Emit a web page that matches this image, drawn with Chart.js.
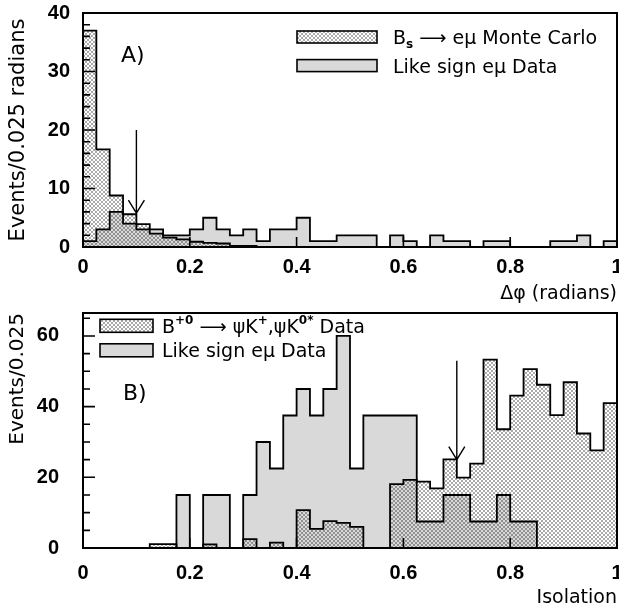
<!DOCTYPE html>
<html>
<head>
<meta charset="utf-8">
<script src="https://cdn.jsdelivr.net/npm/chart.js@4.4.0/dist/chart.umd.min.js"></script>
<style>
  html, body { margin: 0; padding: 0; background: #fff; }
  #wrap { position: relative; width: 619px; height: 606px; }
  canvas { position: absolute; left: 0; }
  #chartA { top: 0; }
  #chartB { top: 303px; }
</style>
</head>
<body>
<div id="wrap">
  <canvas id="chartA" width="619" height="303"></canvas>
  <canvas id="chartB" width="619" height="303"></canvas>
</div>
<script>
// 40 bins of 0.025 from 0 to 1 in both panels
const binWidth = 0.025;

// panel A: delta phi (radians)
const dphiMonteCarlo = [37, 16.7, 8.8, 5.6, 3.9, 2.3, 1.6, 1.3, 0.9, 0.7,
                        0.6, 0.2, 0.2, 0, 0, 0, 0, 0, 0, 0,
                        0, 0, 0, 0, 0, 0, 0, 0, 0, 0,
                        0, 0, 0, 0, 0, 0, 0, 0, 0, 0];
const dphiLikeSign = [1, 3, 6, 4, 3, 3, 2, 2, 3, 5,
                      3, 2, 3, 1, 3, 3, 5, 1, 1, 2,
                      2, 2, 0, 2, 1, 0, 2, 1, 1, 0,
                      1, 1, 0, 0, 0, 1, 1, 2, 0, 1];

// panel B: isolation
const isoPsiK = [0, 0, 0, 0, 0, 1.1, 1.1, 0, 0, 1.0,
                 0, 0, 2.5, 0, 1.5, 0, 10.7, 5.4, 7.6, 7.1,
                 6.0, 0, 0, 18.1, 19.3, 18.8, 16.9, 25.1, 19.9, 23.9,
                 53.3, 33.6, 43.1, 50.6, 46.2, 37.6, 46.9, 32.4, 27.6, 41.0];
const isoLikeSign = [0, 0, 0, 0, 0, 0, 0, 15, 0, 15,
                     15, 0, 15, 30, 22.5, 37.5, 45, 37.5, 45, 60,
                     22.5, 37.5, 37.5, 37.5, 37.5, 7.5, 7.5, 15, 15, 7.5,
                     7.5, 15, 7.5, 7.5, 0, 0, 0, 0, 0, 0];

// axes
const xTickValues = [0, 0.2, 0.4, 0.6, 0.8, 1];
const xTickLabels = ['0', '0.2', '0.4', '0.6', '0.8', '1'];
const yTicksA = [0, 10, 20, 30, 40];
const yTicksB = [0, 20, 40, 60];

// cut arrows (x value, from y, to y)
const cutA = { x: 0.1, from: 20, to: 5.8 };
const cutB = { x: 0.7, from: 53, to: 25 };

// legend texts
const legendA = [
  [{ t: 'B' }, { t: 's', sub: true }, { t: ' \u27F6 e\u03BC Monte Carlo' }],
  [{ t: 'Like sign e\u03BC Data' }]
];
const legendB = [
  [{ t: 'B' }, { t: '+0', sup: true }, { t: ' \u27F6 \u03C8K' }, { t: '+', sup: true },
   { t: ',\u03C8K' }, { t: '0*', sup: true }, { t: ' Data' }],
  [{ t: 'Like sign e\u03BC Data' }]
];

const tickFont = { family: '"Liberation Sans", Arial, sans-serif', size: 20, weight: 'bold' };

function stepPoints(values) {
  const pts = [{ x: 0, y: 0 }];
  values.forEach((v, i) => pts.push({ x: i * binWidth, y: v }));
  pts.push({ x: values.length * binWidth, y: values[values.length - 1] });
  pts.push({ x: values.length * binWidth, y: 0 });
  return pts;
}

function makeHatch(ctx) {
  const c = document.createElement('canvas');
  c.width = 4; c.height = 4;
  const g = c.getContext('2d');
  g.strokeStyle = 'rgba(0,0,0,0.48)';
  g.lineWidth = 0.7;
  g.beginPath();
  g.moveTo(-1, -1); g.lineTo(5, 5);
  g.moveTo(-1, 5); g.lineTo(5, -1);
  g.stroke();
  return ctx.createPattern(c, 'repeat');
}

function drawRich(ctx, x, y, parts, size) {
  parts.forEach(p => {
    const small = p.sub || p.sup;
    const s = small ? Math.round(size * 0.62) : size;
    ctx.font = (small ? 'bold ' : '') + s + 'px "DejaVu Sans", sans-serif';
    const dy = p.sub ? size * 0.22 : (p.sup ? -size * 0.45 : 0);
    ctx.fillText(p.t, x, y + dy);
    x += ctx.measureText(p.t).width;
  });
}

function stepTicks(max, step) {
  let out = [];
  for (let v = 0; v <= max + 1e-9; v += step) out.push(v);
  return out;
}

const decorPlugin = {
  id: 'decor',
  afterDatasetsDraw(chart, args, o) {
    const { ctx, chartArea: a, scales: { x, y } } = chart;
    ctx.save();
    ctx.strokeStyle = '#000';
    ctx.fillStyle = '#000';

    // inward tick marks
    ctx.lineWidth = 1.6;
    ctx.beginPath();
    o.yMinor.forEach(v => {
      const py = y.getPixelForValue(v);
      ctx.moveTo(a.left, py); ctx.lineTo(a.left + 7, py);
    });
    o.yMajor.forEach(v => {
      const py = y.getPixelForValue(v);
      ctx.moveTo(a.left, py); ctx.lineTo(a.left + 12, py);
    });
    xTickValues.forEach(v => {
      const px = x.getPixelForValue(v);
      ctx.moveTo(px, a.bottom); ctx.lineTo(px, a.bottom - 10);
    });
    ctx.stroke();

    // frame
    ctx.lineWidth = 2;
    ctx.strokeRect(a.left, a.top, a.right - a.left, a.bottom - a.top);

    // cut arrow
    const ax = x.getPixelForValue(o.arrow.x);
    const y0 = y.getPixelForValue(o.arrow.from);
    const y1 = y.getPixelForValue(o.arrow.to);
    ctx.lineWidth = 1.4;
    ctx.beginPath();
    ctx.moveTo(ax, y0); ctx.lineTo(ax, y1);
    ctx.moveTo(ax - 8, y1 - 13); ctx.lineTo(ax, y1); ctx.lineTo(ax + 8, y1 - 13);
    ctx.stroke();

    // panel label
    ctx.font = '22px "DejaVu Sans", sans-serif';
    ctx.textBaseline = 'alphabetic';
    ctx.fillText(o.label, a.left + o.labelPos[0], a.top + o.labelPos[1]);

    // legend
    const L = o.legend;
    const ds = chart.data.datasets;
    L.rows.forEach((parts, i) => {
      const bx = (L.fromRight ? a.right - L.x : a.left + L.x);
      const by = a.top + L.y + i * L.gap;
      ctx.fillStyle = ds[i].backgroundColor;
      ctx.fillRect(bx, by, L.w, L.h);
      ctx.lineWidth = 1.6;
      ctx.strokeRect(bx, by, L.w, L.h);
      ctx.fillStyle = '#000';
      drawRich(ctx, bx + L.w + L.textGap, by + L.h / 2 + 7, parts, 19);
    });
    ctx.restore();
  }
};

function makeChart(id, cfg) {
  const ctx = document.getElementById(id).getContext('2d');
  const hatch = makeHatch(ctx);
  const titleFont = { family: '"DejaVu Sans", sans-serif', size: cfg.titleSize };
  return new Chart(ctx, {
    type: 'line',
    data: {
      datasets: [{
        label: cfg.hatchLabel,
        data: stepPoints(cfg.hatchValues),
        backgroundColor: hatch,
        borderColor: '#000',
        borderWidth: 1.8,
        fill: 'origin',
        stepped: true,
        pointRadius: 0,
        order: 0
      }, {
        label: cfg.grayLabel,
        data: stepPoints(cfg.grayValues),
        backgroundColor: '#d9d9d9',
        borderColor: '#000',
        borderWidth: 1.8,
        fill: 'origin',
        stepped: true,
        pointRadius: 0,
        order: 1
      }]
    },
    options: {
      responsive: false,
      animation: false,
      events: [],
      layout: { padding: { top: cfg.top, right: 2, left: 0, bottom: 0 } },
      plugins: {
        legend: { display: false },
        tooltip: { enabled: false },
        decor: cfg.decor
      },
      scales: {
        x: {
          type: 'linear', min: 0, max: 1,
          afterBuildTicks: s => { s.ticks = xTickValues.map(v => ({ value: v })); },
          ticks: {
            callback: (v, i) => xTickLabels[i],
            font: tickFont, color: '#000', padding: cfg.xPad, maxRotation: 0, autoSkip: false
          },
          grid: { display: false, drawTicks: false },
          border: { display: false },
          title: { display: true, text: cfg.xTitle, align: 'end', font: { family: '"DejaVu Sans", sans-serif', size: 19 }, color: '#000', padding: { top: 0, bottom: cfg.xTitlePad } },
          afterFit: s => { s.height = cfg.xHeight; s.paddingLeft = 0; s.paddingRight = 0; }
        },
        y: {
          min: 0, max: cfg.yMax,
          afterBuildTicks: s => { s.ticks = cfg.yTicks.map(v => ({ value: v })); },
          ticks: { font: tickFont, color: '#000', padding: cfg.yPad },
          grid: { display: false, drawTicks: false },
          border: { display: false },
          title: { display: true, text: cfg.yTitle, align: cfg.yAlign, font: titleFont, color: '#000', padding: { top: 6, bottom: 0 } },
          afterFit: s => { s.width = 83; s.paddingTop = 0; s.paddingBottom = 0; }
        }
      }
    },
    plugins: [decorPlugin]
  });
}

makeChart('chartA', {
  hatchLabel: 'Bs \u2192 e\u03BC Monte Carlo',
  grayLabel: 'Like sign e\u03BC Data',
  hatchValues: dphiMonteCarlo,
  grayValues: dphiLikeSign,
  top: 13, xHeight: 56, yMax: 40, yTicks: yTicksA, yPad: 13, xPad: 8, xTitlePad: -2,
  xTitle: '\u0394\u03C6 (radians)', titleSize: 21,
  yTitle: 'Events/0.025 radians', yAlign: 'center',
  decor: {
    yMajor: yTicksA, yMinor: stepTicks(40, 2),
    arrow: cutA, label: 'A)', labelPos: [38, 49],
    legend: { rows: legendA, fromRight: true, x: 320, y: 18, gap: 28.6, w: 80, h: 12, textGap: 16 }
  }
});

makeChart('chartB', {
  hatchLabel: 'B+0 \u2192 \u03C8K+,\u03C8K0* Data',
  grayLabel: 'Like sign e\u03BC Data',
  hatchValues: isoPsiK,
  grayValues: isoLikeSign,
  top: 10, xHeight: 58, yMax: 66.5, yTicks: yTicksB, yPad: 24, xPad: 13, xTitlePad: -3,
  xTitle: 'Isolation', titleSize: 20,
  yTitle: 'Events/0.025', yAlign: 'end',
  decor: {
    yMajor: yTicksB, yMinor: stepTicks(65, 5),
    arrow: cutB, label: 'B)', labelPos: [40, 87],
    legend: { rows: legendB, fromRight: false, x: 17, y: 6.3, gap: 24.5, w: 53, h: 13, textGap: 9 }
  }
});
</script>
</body>
</html>
